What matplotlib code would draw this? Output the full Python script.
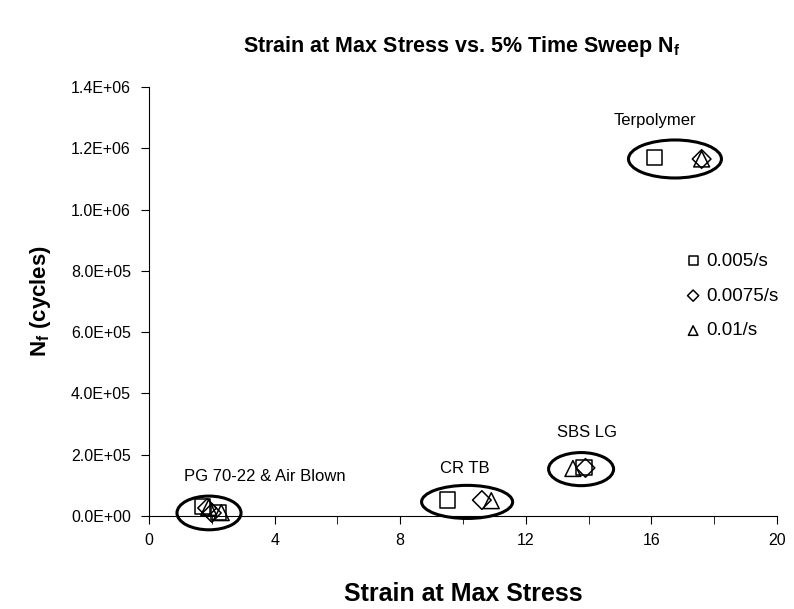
import matplotlib
matplotlib.use("Agg")
import matplotlib.pyplot as plt
from matplotlib.patches import Ellipse
from matplotlib.ticker import FuncFormatter, MultipleLocator

plt.rcParams['font.family'] = ['Liberation Sans', 'DejaVu Sans']
plt.rcParams['mathtext.fontset'] = 'custom'
plt.rcParams['mathtext.rm'] = 'Liberation Sans'
plt.rcParams['mathtext.bf'] = 'Liberation Sans:bold'

# Data: materials in order Terpolymer, CR TB, SBS LG, PG 70-22, Air Blown
materials = ["Terpolymer", "CR TB", "SBS LG", "PG 70-22", "Air Blown"]
strain_0005 = [16.1, 9.5, 13.85, 1.7, 2.2]
nf_0005 = [1.17e6, 5.2e4, 1.57e5, 3.0e4, 1.2e4]
strain_00075 = [17.6, 10.6, 13.9, 1.85, 2.0]
nf_00075 = [1.165e6, 5.2e4, 1.57e5, 2.6e4, 1.0e4]
strain_001 = [17.6, 10.9, 13.5, 1.9, 2.3]
nf_001 = [1.165e6, 5.0e4, 1.55e5, 2.8e4, 1.1e4]
series_labels = ["0.005/s", "0.0075/s", "0.01/s"]

# Group annotations and their ellipses
group_labels = ["Terpolymer", "CR TB", "SBS LG", "PG 70-22 & Air Blown"]
label_x = [16.1, 10.05, 13.95, 3.7]
label_y = [1.29e6, 1.55e5, 2.72e5, 1.3e5]
ell_cx = [16.75, 10.13, 13.76, 1.91]
ell_cy = [1.165e6, 4.6e4, 1.53e5, 1.0e4]
ell_w = [2.96, 2.9, 2.07, 2.04]
ell_h = [1.24e5, 1.08e5, 1.08e5, 1.1e5]

fig = plt.figure(figsize=(7.94, 6.09), dpi=100)
ax = fig.add_axes([0.1877, 0.1527, 0.7909, 0.7045])

mk = dict(facecolors='none', edgecolors='black', linewidths=1.1, zorder=3, clip_on=False)
ax.scatter(strain_0005, nf_0005, marker='s', label=series_labels[0], s=120, **mk)
ax.scatter(strain_00075, nf_00075, marker='D', label=series_labels[1], s=90, **mk)
ax.scatter(strain_001, nf_001, marker='^', label=series_labels[2], s=130, **mk)

for cx, cy, w, h in zip(ell_cx, ell_cy, ell_w, ell_h):
    ax.add_patch(Ellipse((cx, cy), w, h, fill=False, edgecolor='black', linewidth=2.2,
                         clip_on=False, zorder=4))

for t, x, y in zip(group_labels, label_x, label_y):
    ax.text(x, y, t, ha='center', va='center', fontsize=12)

ax.set_xlim(0, 20)
ax.set_ylim(0, 1.4e6)
ax.xaxis.set_major_locator(MultipleLocator(4))
ax.xaxis.set_minor_locator(MultipleLocator(2))
ax.yaxis.set_major_locator(MultipleLocator(2e5))
ax.yaxis.set_major_formatter(FuncFormatter(lambda v, p: f"{v:.1E}"))
ax.tick_params(axis='both', which='both', direction='out', labelsize=11.5, length=6)
ax.tick_params(axis='y', pad=7)
ax.tick_params(axis='x', pad=6)
ax.spines['top'].set_visible(False)
ax.spines['right'].set_visible(False)

ax.set_xlabel("Strain at Max Stress", fontsize=18, fontweight='bold', labelpad=25)
ax.set_ylabel(r"N$_\mathbf{f}$ (cycles)", fontsize=16, fontweight='bold', labelpad=13)
fig.text(0.582, 0.923, r"Strain at Max Stress vs. 5% Time Sweep N$_\mathbf{f}$",
         ha='center', va='center', fontsize=15.5, fontweight='bold')

ax.legend(loc='center', bbox_to_anchor=(0.922, 0.514), bbox_transform=fig.transFigure,
          frameon=False, fontsize=13.5, handlelength=0.8, handletextpad=0.3,
          labelspacing=0.95, markerscale=0.6, borderaxespad=0, borderpad=0)

fig.savefig("out.png", dpi=100)
